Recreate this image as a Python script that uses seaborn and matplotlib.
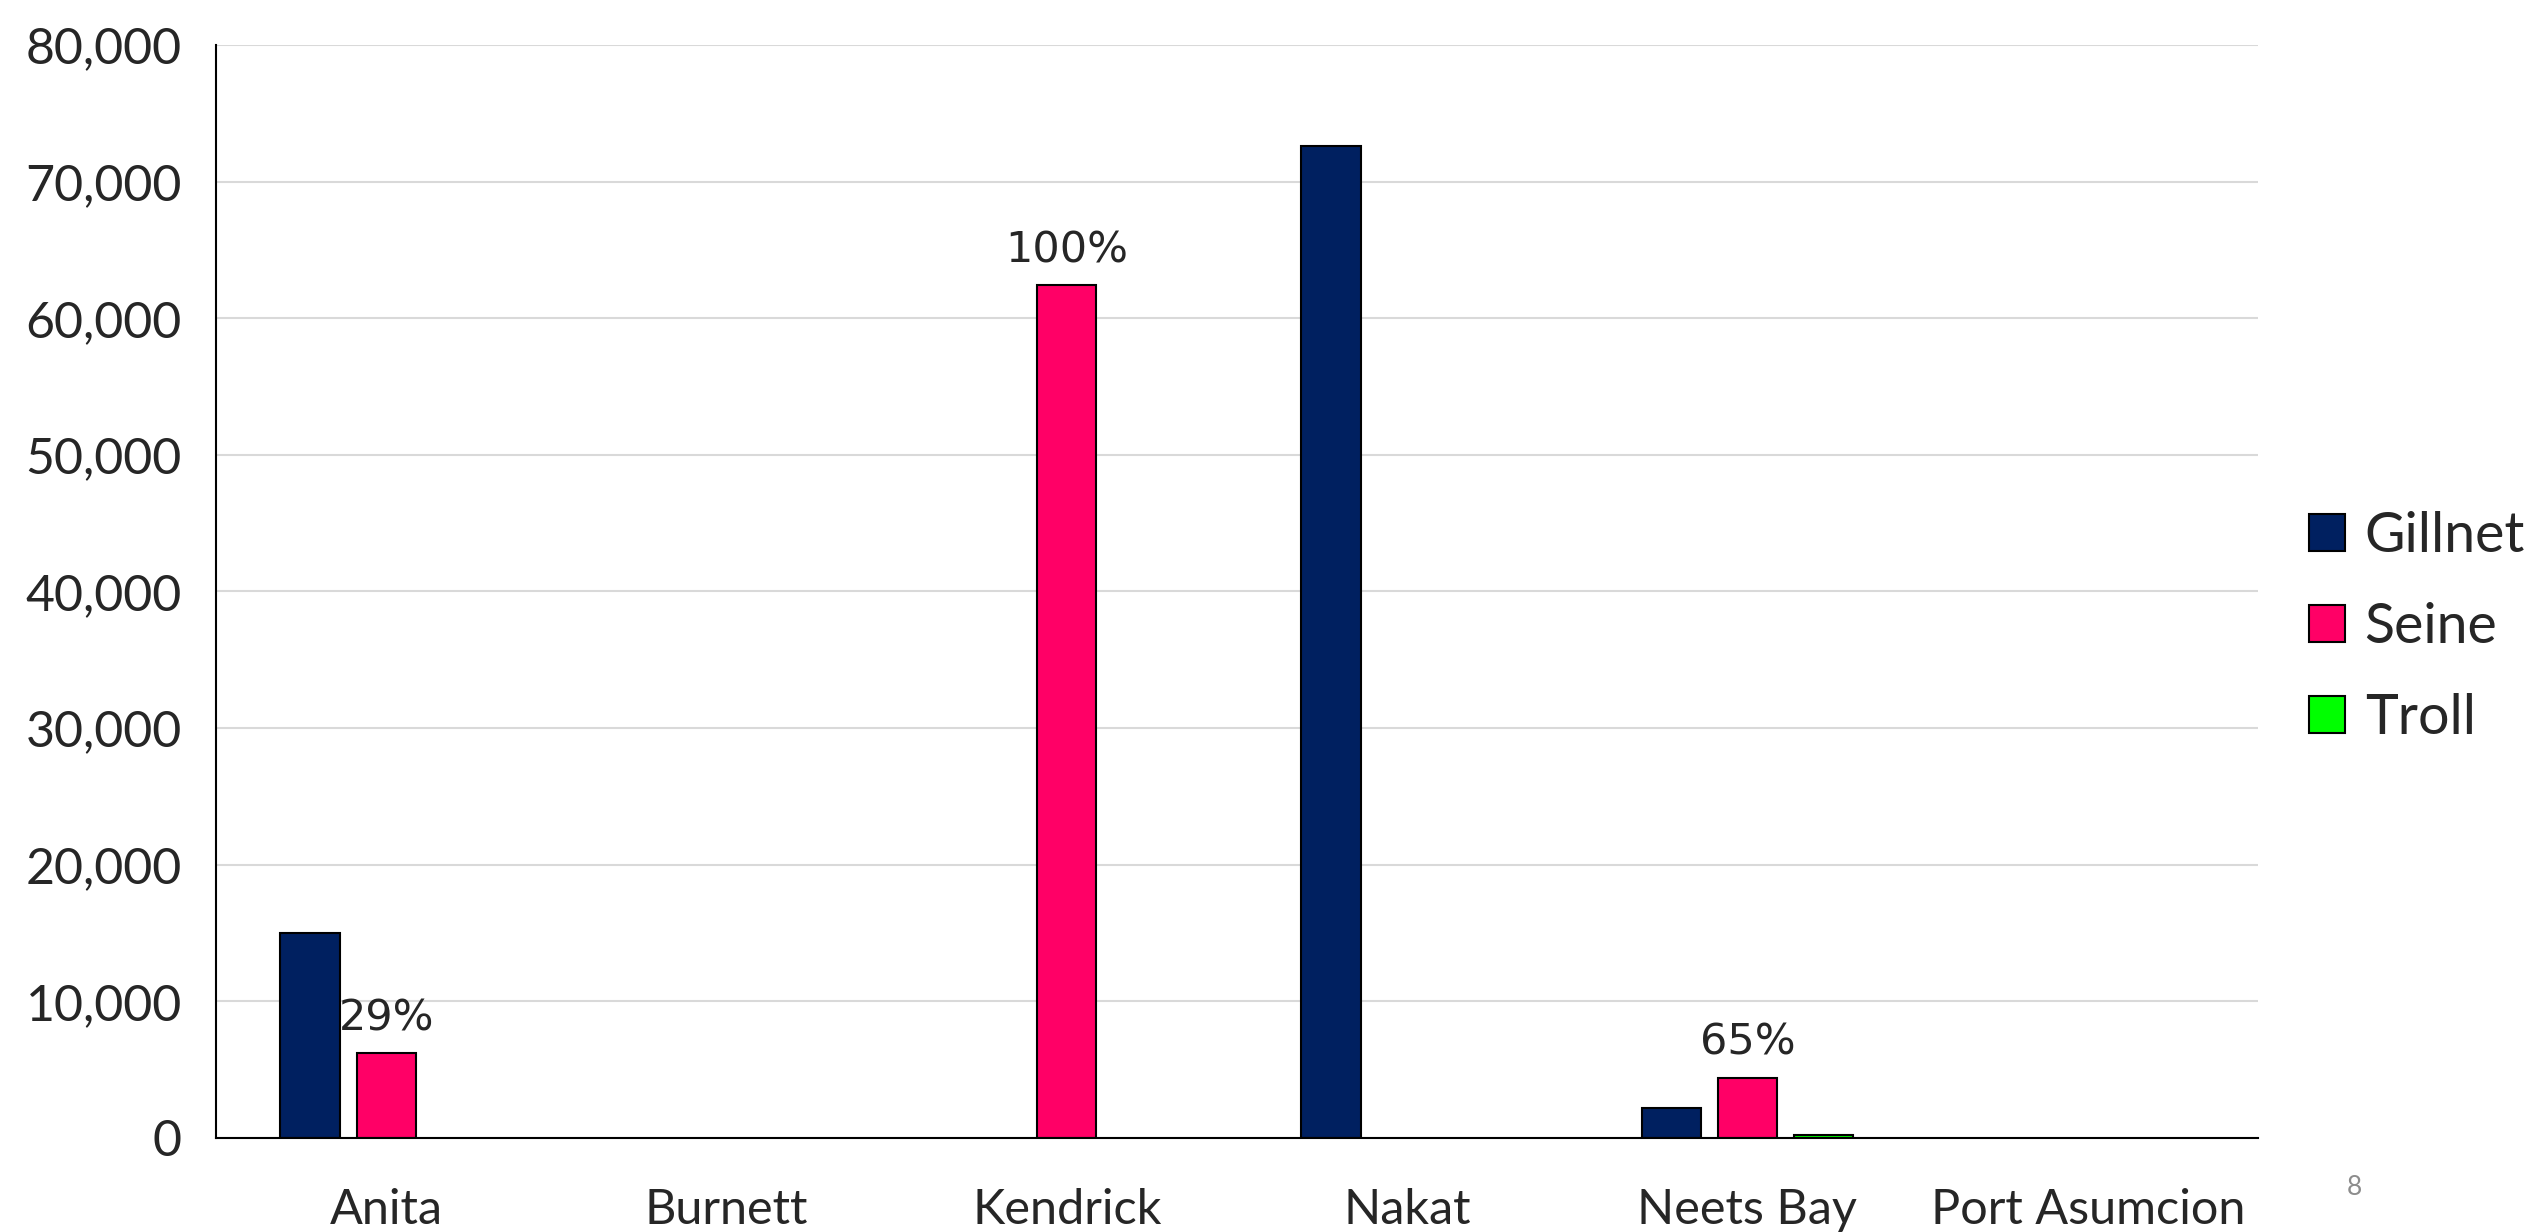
import matplotlib.pyplot as plt
import numpy as np
import pandas as pd
import seaborn as sns
from matplotlib.patches import Patch
from matplotlib.ticker import FuncFormatter

sites = ['Anita', 'Burnett', 'Kendrick', 'Nakat', 'Neets Bay', 'Port Asumcion']
gears = ['Gillnet', 'Seine', 'Troll']
gillnet = [15000, np.nan, np.nan, 72600, 2200, np.nan]
seine = [6200, np.nan, 62400, np.nan, 4400, np.nan]
troll = [np.nan, np.nan, np.nan, np.nan, 250, np.nan]
seine_labels = ['29%', '100%', '65%']
colors = ['#002060', '#FF0066', '#00FF00']

df = pd.DataFrame({'site': sites * 3,
                   'gear': [g for g in gears for _ in sites],
                   'fish': gillnet + seine + troll})

sns.set_style('white')
plt.rcParams['font.family'] = ['Lato', 'DejaVu Sans']

fig = plt.figure(figsize=(25.47, 12.32), dpi=100)
ax = fig.add_axes([0.0848, 0.0763, 0.8017, 0.8872])

sns.barplot(df, x='site', y='fish', hue='gear', order=sites, hue_order=gears,
            palette=colors, saturation=1, width=0.67, gap=0.22,
            edgecolor='black', linewidth=1.5, errorbar=None, legend=False, ax=ax)

ax.bar_label(ax.containers[1], labels=seine_labels, padding=10,
             fontsize=31, family='DejaVu Sans')

ax.set_xlim(-0.5, 5.5)
ax.set_ylim(0, 80000)
ax.set_yticks(range(0, 80001, 10000))
ax.yaxis.set_major_formatter(FuncFormatter(lambda v, p: f'{v:,.0f}'))
ax.set_xlabel('')
ax.set_ylabel('')
ax.grid(axis='y', color='#d9d9d9', linewidth=1.5)
ax.set_axisbelow(True)
for s in ['top', 'right']:
    ax.spines[s].set_visible(False)
for s in ['left', 'bottom']:
    ax.spines[s].set_color('black')
    ax.spines[s].set_linewidth(1.5)

ax.set_xticks(np.arange(-0.5, 6, 1), minor=True)
ax.tick_params(axis='x', which='major', length=0, pad=36, labelsize=35)
ax.tick_params(axis='x', which='minor', direction='inout', length=25,
               width=1.5, color='black')
ax.tick_params(axis='y', direction='inout', length=25, width=1.5,
               color='black', pad=12, labelsize=36)

handles = [Patch(facecolor=c, edgecolor='black', linewidth=1.5) for c in colors]
fig.legend(handles, gears, loc='center left', bbox_to_anchor=(0.9066, 0.491),
           frameon=False, fontsize=40, handlelength=0.65, handleheight=0.65,
           handletextpad=0.35, labelspacing=0.72, borderpad=0, borderaxespad=0)

fig.text(0.9245, 0.036, '8', color='#8c8c8c', fontsize=19, ha='center', va='center')

fig.savefig('out.png', dpi=100)
